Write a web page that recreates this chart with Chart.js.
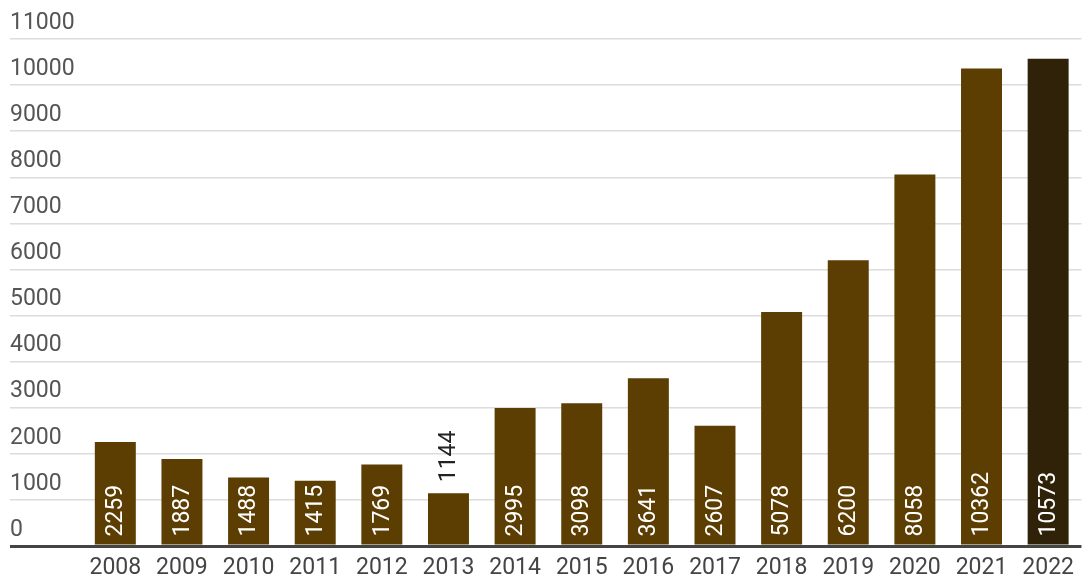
<!DOCTYPE html>
<html>
<head>
<meta charset="utf-8">
<script src="https://cdn.jsdelivr.net/npm/chart.js@4"></script>
<style>
  html, body { margin: 0; padding: 0; background: #fff; }
  #wrap { width: 1082px; height: 578px; }
</style>
</head>
<body>
<div id="wrap"><canvas id="chart"></canvas></div>
<script>
const years = ['2008', '2009', '2010', '2011', '2012', '2013', '2014', '2015',
  '2016', '2017', '2018', '2019', '2020', '2021', '2022'];
const counts = [2259, 1887, 1488, 1415, 1769, 1144, 2995, 3098,
  3641, 2607, 5078, 6200, 8058, 10362, 10573];

const FONT = 'Roboto, "Noto Sans", sans-serif';
const BROWN = '#5c3d02';
const DARK_BROWN = '#2f2208';

// rotated value labels, inside the bar when it fits, above it otherwise
const barLabels = {
  id: 'barLabels',
  afterDatasetsDraw(chart) {
    const ctx = chart.ctx;
    const meta = chart.getDatasetMeta(0);
    ctx.save();
    ctx.font = '23px ' + FONT;
    ctx.textBaseline = 'middle';
    ctx.textAlign = 'left';
    meta.data.forEach((bar, i) => {
      const text = String(counts[i]);
      const w = ctx.measureText(text).width;
      const h = bar.base - bar.y;
      let start;
      if (h > w + 12) {
        ctx.fillStyle = '#ffffff';
        start = bar.base - 8;
      } else {
        ctx.fillStyle = '#222222';
        start = bar.y - 11;
      }
      ctx.save();
      ctx.translate(bar.x, start);
      ctx.rotate(-Math.PI / 2);
      ctx.fillText(text, 0, 1);
      ctx.restore();
    });
    ctx.restore();
  }
};

const gridColor = (c) => (c.tick && c.tick.value === 0 ? '#444444' : '#dcdcdc');
const gridWidth = (c) => (c.tick && c.tick.value === 0 ? 3 : 1.5);

new Chart(document.getElementById('chart'), {
  type: 'bar',
  data: {
    labels: years,
    datasets: [{
      data: counts,
      backgroundColor: counts.map((v, i) => (i === counts.length - 1 ? DARK_BROWN : BROWN)),
      borderWidth: 0,
      categoryPercentage: 1,
      barPercentage: 0.615
    }]
  },
  options: {
    responsive: true,
    maintainAspectRatio: false,
    animation: false,
    layout: { padding: { left: 10, right: 0, top: 39, bottom: 0 } },
    plugins: {
      legend: { display: false },
      tooltip: { enabled: false }
    },
    scales: {
      x: {
        grid: { display: false, drawTicks: false },
        border: { display: false },
        ticks: {
          color: '#444444',
          font: { family: FONT, size: 23 },
          padding: 8,
          maxRotation: 0
        },
        afterFit: (scale) => { scale.height = 32; }
      },
      y: {
        min: 0,
        max: 11000,
        border: { display: false },
        grid: {
          color: gridColor,
          tickColor: gridColor,
          lineWidth: gridWidth,
          tickWidth: gridWidth,
          tickLength: 72
        },
        ticks: {
          stepSize: 1000,
          mirror: true,
          padding: -72,
          labelOffset: -16,
          color: '#555555',
          font: { family: FONT, size: 23 },
          callback: (v) => String(v)
        },
        afterFit: (scale) => { scale.width = 72; }
      }
    }
  },
  plugins: [barLabels]
});
</script>
</body>
</html>
